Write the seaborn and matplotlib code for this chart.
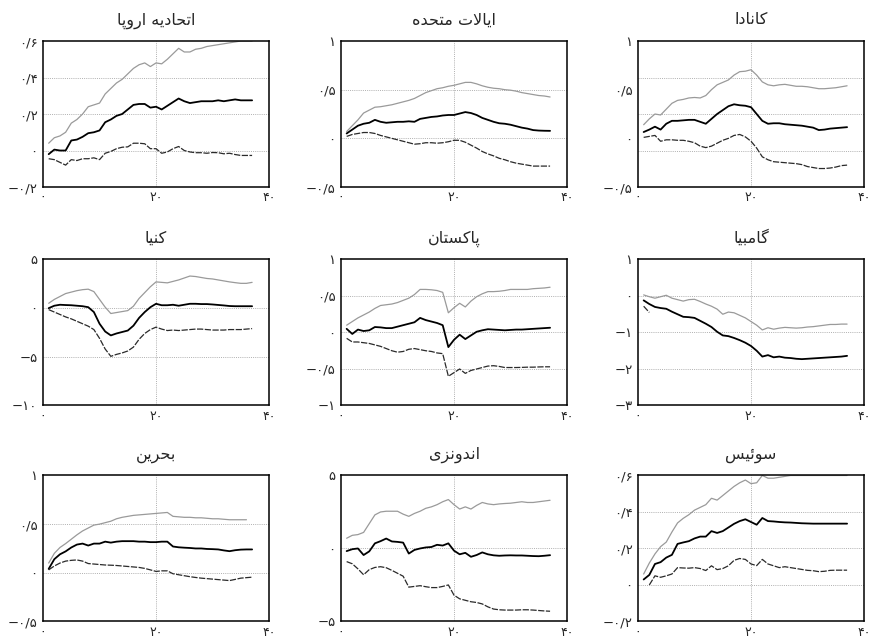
import numpy as np
import matplotlib
matplotlib.use("Agg")
import matplotlib.pyplot as plt
from matplotlib.ticker import FixedLocator, FuncFormatter
import seaborn as sns

sns.set_theme(style="white")
plt.rcParams["font.family"] = ["DejaVu Sans"]

# ---------------------------------------------------------------- data
periods = np.arange(1, 38)

titles = ["اتحادیه اروپا", "ایالات متحده", "کانادا",
          "کنیا", "پاکستان", "گامبیا",
          "بحرین", "اندونزی", "سوئیس"]

x_ticks = [0, 20, 40]

y_limits = [(-0.2, 0.6), (-0.5, 1.0), (-0.5, 1.0),
            (-10, 5), (-1, 1), (-3, 1),
            (-0.5, 1.0), (-5, 5), (-0.2, 0.6)]
y_ticks = [[-0.2, 0, 0.2, 0.4, 0.6], [-0.5, 0, 0.5, 1], [-0.5, 0, 0.5, 1],
           [-10, -5, 0, 5], [-1, -0.5, 0, 0.5, 1], [-3, -2, -1, 0, 1],
           [-0.5, 0, 0.5, 1], [-5, 0, 5], [-0.2, 0, 0.2, 0.4, 0.6]]
y_grid = [[0, 0.2, 0.4], [0, 0.5], [-0.125, 0.25, 0.625],
          [-5, 0], [-0.5, 0, 0.5], [-2, -1, 0],
          [0, 0.5], [0], [0, 0.2, 0.4]]

eu_upper = [0.04, 0.07, 0.08, 0.10, 0.15, 0.17, 0.20, 0.24, 0.25, 0.26, 0.31, 0.34, 0.37,
            0.39, 0.42, 0.45, 0.47, 0.48, 0.46, 0.48, 0.475, 0.50, 0.53, 0.56, 0.54, 0.54,
            0.555, 0.56, 0.57, 0.575, 0.58, 0.585, 0.59, 0.595, 0.60, 0.60, 0.60]
eu_mid = [-0.02, 0.005, 0.0, 0.0, 0.055, 0.06, 0.075, 0.095, 0.10, 0.11, 0.155, 0.17, 0.19,
          0.20, 0.225, 0.25, 0.255, 0.255, 0.235, 0.24, 0.225, 0.245, 0.265, 0.285, 0.27,
          0.26, 0.265, 0.27, 0.27, 0.27, 0.275, 0.27, 0.275, 0.28, 0.275, 0.275, 0.275]
eu_lower = [-0.045, -0.05, -0.065, -0.08, -0.05, -0.055, -0.045, -0.045, -0.04, -0.05,
            -0.015, -0.005, 0.01, 0.018, 0.02, 0.04, 0.04, 0.037, 0.01, 0.01, -0.015,
            -0.008, 0.01, 0.022, 0.0, -0.008, -0.012, -0.012, -0.015, -0.011, -0.012,
            -0.018, -0.015, -0.022, -0.027, -0.027, -0.027]

us_upper = [0.07, 0.13, 0.19, 0.26, 0.29, 0.32, 0.325, 0.335, 0.345, 0.36, 0.375, 0.39,
            0.41, 0.44, 0.47, 0.49, 0.51, 0.52, 0.535, 0.545, 0.56, 0.575, 0.575, 0.56,
            0.54, 0.525, 0.515, 0.51, 0.50, 0.495, 0.485, 0.47, 0.46, 0.45, 0.44, 0.435, 0.425]
us_mid = [0.05, 0.09, 0.13, 0.15, 0.16, 0.19, 0.17, 0.16, 0.165, 0.17, 0.17, 0.175, 0.17,
          0.20, 0.21, 0.22, 0.225, 0.235, 0.24, 0.24, 0.255, 0.27, 0.26, 0.24, 0.21, 0.19,
          0.17, 0.155, 0.15, 0.14, 0.125, 0.11, 0.10, 0.085, 0.08, 0.078, 0.077]
us_lower = [0.02, 0.04, 0.05, 0.06, 0.06, 0.05, 0.03, 0.015, 0.0, -0.015, -0.03, -0.045,
            -0.06, -0.055, -0.045, -0.045, -0.05, -0.045, -0.035, -0.02, -0.02, -0.04,
            -0.07, -0.10, -0.135, -0.16, -0.18, -0.205, -0.22, -0.24, -0.255, -0.265,
            -0.275, -0.285, -0.285, -0.285, -0.285]

ca_upper = [0.14, 0.20, 0.25, 0.24, 0.30, 0.36, 0.39, 0.40, 0.415, 0.42, 0.415, 0.44, 0.50,
            0.55, 0.575, 0.60, 0.65, 0.685, 0.69, 0.705, 0.65, 0.58, 0.55, 0.54, 0.55, 0.555,
            0.545, 0.535, 0.535, 0.53, 0.52, 0.51, 0.51, 0.515, 0.52, 0.53, 0.54]
ca_mid = [0.065, 0.09, 0.12, 0.09, 0.15, 0.18, 0.18, 0.185, 0.19, 0.19, 0.17, 0.15, 0.20,
          0.25, 0.29, 0.33, 0.35, 0.34, 0.335, 0.32, 0.25, 0.18, 0.15, 0.155, 0.155, 0.145,
          0.14, 0.135, 0.13, 0.12, 0.11, 0.085, 0.09, 0.10, 0.105, 0.11, 0.115]
ca_lower = [0.01, 0.02, 0.03, -0.03, -0.015, -0.015, -0.02, -0.02, -0.03, -0.045, -0.08,
            -0.095, -0.08, -0.05, -0.02, 0.0, 0.03, 0.04, 0.015, -0.03, -0.10, -0.19, -0.22,
            -0.24, -0.245, -0.25, -0.255, -0.26, -0.27, -0.29, -0.30, -0.31, -0.31, -0.305,
            -0.295, -0.28, -0.275]

ke_upper = [0.5, 0.9, 1.2, 1.5, 1.65, 1.8, 1.9, 1.95, 1.7, 0.9, 0.1, -0.55, -0.45, -0.35,
            -0.25, 0.2, 1.0, 1.6, 2.2, 2.7, 2.65, 2.6, 2.75, 2.9, 3.1, 3.3, 3.25, 3.15, 3.05,
            3.0, 2.9, 2.8, 2.7, 2.62, 2.55, 2.55, 2.65]
ke_mid = [0.0, 0.25, 0.35, 0.32, 0.3, 0.25, 0.2, 0.1, -0.4, -1.6, -2.4, -2.8, -2.6, -2.45,
          -2.3, -1.8, -1.0, -0.4, 0.1, 0.45, 0.3, 0.3, 0.35, 0.25, 0.35, 0.45, 0.45, 0.42,
          0.42, 0.38, 0.33, 0.28, 0.22, 0.2, 0.2, 0.2, 0.2]
ke_lower = [-0.15, -0.4, -0.65, -0.9, -1.1, -1.35, -1.6, -1.85, -2.2, -3.1, -4.2, -4.95,
            -4.75, -4.6, -4.4, -4.0, -3.2, -2.6, -2.2, -1.95, -2.15, -2.3, -2.25, -2.3, -2.25,
            -2.2, -2.15, -2.15, -2.2, -2.25, -2.25, -2.25, -2.2, -2.2, -2.2, -2.15, -2.1]

pk_upper = [0.1, 0.15, 0.2, 0.24, 0.28, 0.33, 0.37, 0.38, 0.39, 0.41, 0.44, 0.47, 0.52,
            0.59, 0.59, 0.585, 0.575, 0.55, 0.27, 0.34, 0.4, 0.35, 0.43, 0.49, 0.53, 0.56,
            0.56, 0.565, 0.575, 0.59, 0.59, 0.59, 0.59, 0.6, 0.605, 0.61, 0.62]
pk_mid = [0.05, -0.02, 0.04, 0.02, 0.03, 0.075, 0.07, 0.06, 0.06, 0.08, 0.1, 0.12, 0.14,
          0.2, 0.17, 0.15, 0.13, 0.1, -0.2, -0.1, -0.03, -0.09, -0.04, 0.01, 0.03, 0.045,
          0.04, 0.035, 0.03, 0.035, 0.04, 0.04, 0.045, 0.05, 0.055, 0.06, 0.065]
pk_lower = [-0.08, -0.13, -0.13, -0.14, -0.15, -0.17, -0.19, -0.22, -0.25, -0.27, -0.26,
            -0.23, -0.22, -0.235, -0.25, -0.26, -0.28, -0.29, -0.6, -0.55, -0.5, -0.56,
            -0.52, -0.5, -0.48, -0.46, -0.455, -0.465, -0.48, -0.48, -0.48, -0.478, -0.475,
            -0.475, -0.472, -0.47, -0.47]

gm_upper = [0.03, -0.02, -0.06, -0.02, 0.02, -0.06, -0.1, -0.14, -0.1, -0.09, -0.15, -0.22,
            -0.28, -0.36, -0.5, -0.44, -0.46, -0.53, -0.6, -0.7, -0.8, -0.93, -0.87, -0.91,
            -0.88, -0.86, -0.87, -0.88, -0.87, -0.85, -0.84, -0.82, -0.8, -0.78, -0.78,
            -0.77, -0.77]
gm_mid = [-0.12, -0.22, -0.3, -0.33, -0.35, -0.43, -0.5, -0.57, -0.58, -0.6, -0.68, -0.76,
          -0.85, -0.98, -1.08, -1.1, -1.15, -1.21, -1.28, -1.37, -1.5, -1.66, -1.62, -1.68,
          -1.66, -1.69, -1.7, -1.72, -1.73, -1.72, -1.71, -1.7, -1.69, -1.68, -1.67, -1.66,
          -1.64]
gm_lower = [-0.28, -0.45] + [np.nan] * 35

bh_upper = [0.1, 0.2, 0.26, 0.3, 0.345, 0.39, 0.43, 0.46, 0.49, 0.5, 0.515, 0.53, 0.555,
            0.57, 0.58, 0.59, 0.595, 0.6, 0.605, 0.61, 0.615, 0.62, 0.58, 0.575, 0.57, 0.57,
            0.565, 0.565, 0.56, 0.555, 0.555, 0.55, 0.545, 0.545, 0.545, 0.545, np.nan]
bh_mid = [0.04, 0.14, 0.19, 0.22, 0.26, 0.29, 0.3, 0.28, 0.3, 0.3, 0.32, 0.31, 0.32, 0.325,
          0.325, 0.325, 0.32, 0.32, 0.315, 0.315, 0.32, 0.32, 0.27, 0.262, 0.258, 0.255,
          0.25, 0.25, 0.245, 0.243, 0.24, 0.23, 0.222, 0.232, 0.238, 0.24, 0.24]
bh_lower = [0.03, 0.07, 0.1, 0.12, 0.128, 0.132, 0.12, 0.095, 0.09, 0.085, 0.08, 0.078,
            0.075, 0.07, 0.065, 0.06, 0.055, 0.045, 0.03, 0.014, 0.02, 0.02, -0.01, -0.02,
            -0.03, -0.04, -0.048, -0.055, -0.06, -0.065, -0.07, -0.075, -0.08, -0.068,
            -0.055, -0.05, -0.045]

id_upper = [0.7, 0.9, 0.95, 1.1, 1.7, 2.3, 2.5, 2.55, 2.55, 2.55, 2.35, 2.2, 2.4, 2.55,
            2.75, 2.85, 3.0, 3.2, 3.35, 3.0, 2.7, 2.85, 2.7, 2.95, 3.15, 3.05, 3.0, 3.05,
            3.08, 3.1, 3.15, 3.2, 3.15, 3.15, 3.2, 3.25, 3.3]
id_mid = [-0.18, -0.05, 0.0, -0.45, -0.2, 0.35, 0.5, 0.68, 0.48, 0.45, 0.4, -0.35, -0.1,
          0.0, 0.07, 0.1, 0.25, 0.2, 0.35, -0.15, -0.4, -0.3, -0.57, -0.45, -0.27, -0.4,
          -0.47, -0.5, -0.48, -0.47, -0.48, -0.48, -0.5, -0.52, -0.53, -0.5, -0.46]
id_lower = [-0.9, -1.05, -1.4, -1.8, -1.45, -1.3, -1.25, -1.32, -1.5, -1.7, -1.9, -2.65,
            -2.6, -2.55, -2.62, -2.68, -2.68, -2.6, -2.5, -3.2, -3.45, -3.55, -3.65, -3.7,
            -3.8, -4.0, -4.15, -4.2, -4.22, -4.22, -4.22, -4.2, -4.2, -4.22, -4.25, -4.28,
            -4.3]

ch_upper = [0.06, 0.12, 0.17, 0.21, 0.235, 0.29, 0.34, 0.365, 0.385, 0.41, 0.425, 0.44,
            0.475, 0.465, 0.49, 0.515, 0.54, 0.56, 0.575, 0.555, 0.56, 0.6, 0.585, 0.585,
            0.59, 0.595, 0.6, 0.6, 0.6, 0.6, 0.6, 0.6, 0.6, 0.6, 0.6, 0.6, 0.6]
ch_mid = [0.03, 0.055, 0.115, 0.125, 0.15, 0.165, 0.225, 0.233, 0.24, 0.255, 0.265, 0.265,
          0.295, 0.285, 0.295, 0.315, 0.335, 0.35, 0.36, 0.345, 0.33, 0.367, 0.35, 0.348,
          0.345, 0.343, 0.342, 0.34, 0.338, 0.337, 0.336, 0.336, 0.336, 0.336, 0.336,
          0.336, 0.336]
ch_lower = [np.nan, 0.0, 0.05, 0.042, 0.05, 0.06, 0.095, 0.093, 0.092, 0.095, 0.09, 0.079,
            0.105, 0.084, 0.09, 0.105, 0.135, 0.145, 0.14, 0.115, 0.106, 0.14, 0.115, 0.105,
            0.095, 0.1, 0.095, 0.09, 0.085, 0.08, 0.078, 0.073, 0.075, 0.08, 0.081, 0.081,
            0.081]

panels = [(eu_upper, eu_mid, eu_lower), (us_upper, us_mid, us_lower),
          (ca_upper, ca_mid, ca_lower), (ke_upper, ke_mid, ke_lower),
          (pk_upper, pk_mid, pk_lower), (gm_upper, gm_mid, gm_lower),
          (bh_upper, bh_mid, bh_lower), (id_upper, id_mid, id_lower),
          (ch_upper, ch_mid, ch_lower)]

# ------------------------------------------------- Persian text helpers
FA_DIGITS = str.maketrans("0123456789", "۰۱۲۳۴۵۶۷۸۹")

# isolated, final, initial, medial presentation forms
FORMS = {
    "ا": ("\uFE8D", "\uFE8E", None, None),
    "ب": ("\uFE8F", "\uFE90", "\uFE91", "\uFE92"),
    "ت": ("\uFE95", "\uFE96", "\uFE97", "\uFE98"),
    "ح": ("\uFEA1", "\uFEA2", "\uFEA3", "\uFEA4"),
    "د": ("\uFEA9", "\uFEAA", None, None),
    "ر": ("\uFEAD", "\uFEAE", None, None),
    "ز": ("\uFEAF", "\uFEB0", None, None),
    "س": ("\uFEB1", "\uFEB2", "\uFEB3", "\uFEB4"),
    "ل": ("\uFEDD", "\uFEDE", "\uFEDF", "\uFEE0"),
    "م": ("\uFEE1", "\uFEE2", "\uFEE3", "\uFEE4"),
    "ن": ("\uFEE5", "\uFEE6", "\uFEE7", "\uFEE8"),
    "ه": ("\uFEE9", "\uFEEA", "\uFEEB", "\uFEEC"),
    "و": ("\uFEED", "\uFEEE", None, None),
    "ئ": ("\uFE89", "\uFE8A", "\uFE8B", "\uFE8C"),
    "پ": ("\uFB56", "\uFB57", "\uFB58", "\uFB59"),
    "ک": ("\uFB8E", "\uFB8F", "\uFB90", "\uFB91"),
    "گ": ("\uFB92", "\uFB93", "\uFB94", "\uFB95"),
    "ی": ("\uFBFC", "\uFBFD", "\uFBFE", "\uFBFF"),
}


def shape_rtl(text):
    """Join Persian letters into contextual forms and lay them out right to left."""
    letters = []
    i = 0
    while i < len(text):
        if text[i] == "ل" and i + 1 < len(text) and text[i + 1] == "ا":
            letters.append("LA")
            i += 2
        else:
            letters.append(text[i])
            i += 1

    def joins_forward(ch):
        return ch in FORMS and FORMS[ch][2] is not None

    out = []
    for j, ch in enumerate(letters):
        prev = letters[j - 1] if j > 0 else None
        nxt = letters[j + 1] if j + 1 < len(letters) else None
        prev_join = prev is not None and joins_forward(prev)
        if ch == "LA":
            out.append("\uFEFC" if prev_join else "\uFEFB")
            continue
        if ch not in FORMS:
            out.append(ch)
            continue
        next_join = joins_forward(ch) and (nxt in FORMS or nxt == "LA")
        iso, fin, ini, med = FORMS[ch]
        if prev_join and next_join:
            out.append(med)
        elif prev_join:
            out.append(fin)
        elif next_join:
            out.append(ini)
        else:
            out.append(iso)
    return "".join(reversed(out))


def fa_number(v, _pos=None):
    s = f"{v:g}"
    neg = s.startswith("-")
    s = s.lstrip("-")
    s = s.replace(".", "/").translate(FA_DIGITS)
    return ("\u2212" + s) if neg else s


# ---------------------------------------------------------------- figure
fig = plt.figure(figsize=(8.71, 6.42), dpi=100)

col_left = [0.0494, 0.3915, 0.7325]
row_bottom = [0.7087, 0.3684, 0.0320]
ax_w, ax_h = 0.2595, 0.2274

for idx, (title, (upper, mid, lower)) in enumerate(zip(titles, panels)):
    r, c = divmod(idx, 3)
    ax = fig.add_axes([col_left[c], row_bottom[r], ax_w, ax_h])

    sns.lineplot(x=periods, y=upper, ax=ax, color="#9a9a9a", linewidth=0.9)
    sns.lineplot(x=periods, y=mid, ax=ax, color="black", linewidth=1.3)
    sns.lineplot(x=periods, y=lower, ax=ax, color="#2a2a2a", linewidth=0.9,
                 linestyle=(0, (5, 1.2)))

    ax.set_xlim(0, 40)
    ax.set_ylim(*y_limits[idx])

    # labelled ticks and dotted reference lines are kept on separate locators
    ax.xaxis.remove_overlapping_locs = False
    ax.yaxis.remove_overlapping_locs = False
    ax.xaxis.set_major_locator(FixedLocator(x_ticks))
    ax.yaxis.set_major_locator(FixedLocator(y_ticks[idx]))
    ax.xaxis.set_major_formatter(FuncFormatter(fa_number))
    ax.yaxis.set_major_formatter(FuncFormatter(fa_number))
    ax.xaxis.set_minor_locator(FixedLocator([20]))
    ax.yaxis.set_minor_locator(FixedLocator(y_grid[idx]))

    ax.grid(False, which="major")
    ax.grid(True, which="minor", color="#b0b0b0", linestyle=(0, (1, 1.2)), linewidth=0.7)
    ax.tick_params(which="both", length=0)
    ax.tick_params(axis="x", which="major", labelsize=9, pad=3)
    ax.tick_params(axis="y", which="major", labelsize=9.5, pad=4)

    for spine in ax.spines.values():
        spine.set_visible(True)
        spine.set_color("black")
        spine.set_linewidth(1.1)
        spine.set_zorder(5)

    ax.set_xlabel("")
    ax.set_ylabel("")
    ax.set_title(shape_rtl(title), fontsize=11.5, pad=12)

fig.savefig("out.png", dpi=100, facecolor="white")
